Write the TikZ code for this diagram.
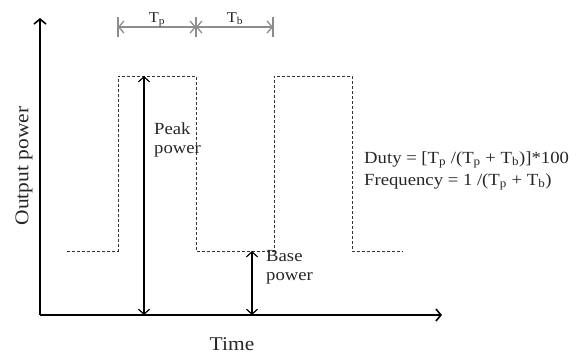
\documentclass[tikz,border=0pt]{standalone}
\usepackage{fontspec}
\setmainfont{Liberation Serif}[FakeStretch=1.1]
\usetikzlibrary{arrows.meta}
\tikzset{
  axis/.style={line width=1.7pt,-{Straight Barb[length=5pt,width=12pt,line width=1.6pt]}},
  dimarr/.style={line width=1.4pt,draw=gray!90,{Straight Barb[length=5pt,width=12pt,line width=1.3pt]}-{Straight Barb[length=5pt,width=12pt,line width=1.3pt]}},
  dimtick/.style={line width=1.4pt,draw=gray!90},
  meas/.style={line width=1.1pt,{Straight Barb[length=5pt,width=11pt,line width=1.2pt]}-{Straight Barb[length=5pt,width=11pt,line width=1.2pt]}},
  wave/.style={line width=0.7pt,draw=black!80,dash pattern=on 3pt off 2pt},
  lbl/.style={inner sep=0pt,align=left,text=black!85,font=\fontsize{17}{19}\selectfont},
  axlbl/.style={inner sep=0pt,text=black!85,font=\fontsize{19.5}{21}\selectfont},
  dimlbl/.style={inner sep=0pt,text=black!85,font=\fontsize{15}{17}\selectfont},
}
\begin{document}
\begin{tikzpicture}[x=1pt,y=-1pt]
\useasboundingbox (0,0) rectangle (582,354);
% axes
\coordinate (O) at (40,315);
\coordinate (ytop) at (40,18);
\coordinate (xend) at (442,315);
\draw[axis] (O) -- (ytop);
\draw[axis] (O) -- (xend);
% waveform
\coordinate (w0) at (67,251);
\coordinate (w1) at (118,251);
\coordinate (w2) at (118,76);
\coordinate (w3) at (196,76);
\coordinate (w4) at (196,251);
\coordinate (w5) at (274,251);
\coordinate (w6) at (274,76);
\coordinate (w7) at (352,76);
\coordinate (w8) at (352,251);
\coordinate (w9) at (403,251);
\draw[wave] (w0) -- (w1) -- (w2) -- (w3) -- (w4) -- (w5) -- (w6) -- (w7) -- (w8) -- (w9);
% peak arrow
\coordinate (pk1) at (144,76);
\coordinate (pk2) at (144,315);
\draw[meas] (pk1) -- (pk2);
% base arrow
\coordinate (bs1) at (252,251);
\coordinate (bs2) at (252,315);
\draw[meas] (bs1) -- (bs2);
% dimension
\coordinate (t1a) at (118,17); \coordinate (t1b) at (118,37);
\coordinate (t2a) at (196,17); \coordinate (t2b) at (196,37);
\coordinate (t3a) at (273,17); \coordinate (t3b) at (273,37);
\draw[dimtick] (t1a) -- (t1b);
\draw[dimtick] (t2a) -- (t2b);
\draw[dimtick] (t3a) -- (t3b);
\coordinate (d1) at (118,27); \coordinate (d2) at (196,27); \coordinate (d3) at (273,27);
\draw[dimarr] (d1) -- (d2);
\draw[dimarr] (d2) -- (d3);
\node[dimlbl,anchor=base] (tp) at (157,22.5) {T\textsubscript{p}};
\node[dimlbl,anchor=base] (tb) at (235,22.5) {T\textsubscript{b}};
% labels
\node[lbl,anchor=base west] (peak) at (154,153) {Peak\\power};
\node[lbl,anchor=base west] (base) at (266,280) {Base\\power};
\node[lbl,anchor=base west] (duty) at (364,163) {Duty = [T\textsubscript{p} /(T\textsubscript{p} + T\textsubscript{b})]*100};
\node[lbl,anchor=base west] (freq) at (364,185) {Frequency = 1 /(T\textsubscript{p} + T\textsubscript{b})};
\node[axlbl,rotate=90] (ylbl) at (24,166) {Output power};
\node[axlbl,anchor=base] (xlbl) at (232,350) {Time};
\end{tikzpicture}
\end{document}
